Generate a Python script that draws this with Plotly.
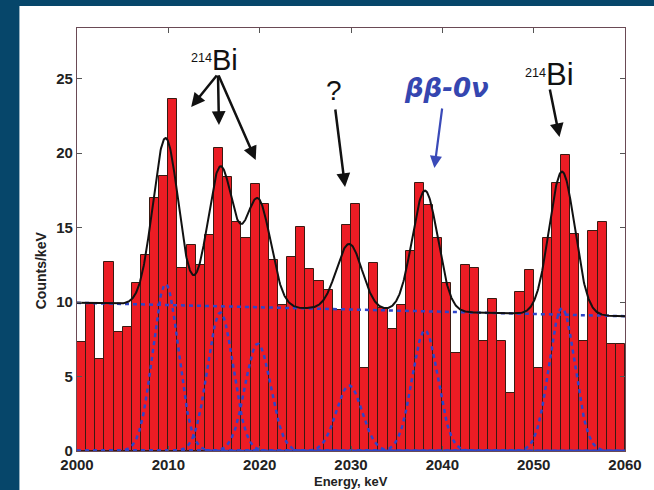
import numpy as np
import plotly.graph_objects as go

# ---- data ----
energy_bins = list(range(2000, 2060))  # left edges of 1 keV bins
counts = [7.35, 9.9, 6.15, 12.7, 8.0, 8.3, 11.3, 13.15, 17.0, 18.45,
          23.65, 12.3, 13.8, 12.5, 14.5, 20.35, 18.4, 15.4, 14.3, 17.95,
          16.6, 12.8, 9.8, 13.0, 15.05, 12.2, 11.4, 10.8, 9.5, 15.2,
          16.6, 5.6, 12.6, 9.6, 8.2, 9.8, 13.4, 18.0, 16.5, 14.3,
          11.3, 6.6, 12.5, 12.3, 7.4, 10.2, 7.4, 3.9, 10.7, 12.15,
          5.6, 14.3, 18.0, 19.9, 14.6, 7.4, 14.8, 15.4, 7.2, 7.2]

peak_centers = [2009.7, 2015.7, 2019.8, 2029.8, 2038.1, 2053.1]
peak_amplitudes = [11.2, 9.3, 7.2, 4.4, 8.1, 9.6]
peak_sigma = [1.4, 1.4, 1.4, 1.4, 1.4, 1.4]
background_ends = [9.95, 9.05]   # background level at 2000 and 2060 keV

x_ticks = [2000, 2010, 2020, 2030, 2040, 2050, 2060]
y_ticks = [0, 5, 10, 15, 20, 25]

# ---- figure ----
W, H = 654, 490
L, R, T, B = 77, 25, 28, 39
pw, ph = W - L - R, H - T - B

E = np.linspace(2000, 2060, 1201)
bg = background_ends[0] + (background_ends[1] - background_ends[0]) * (E - 2000) / 60.0
gauss = [a * np.exp(-(E - c) ** 2 / (2 * s ** 2))
         for c, a, s in zip(peak_centers, peak_amplitudes, peak_sigma)]
total = bg + np.sum(gauss, axis=0)

fig = go.Figure()
fig.add_trace(go.Bar(
    x=[e + 0.5 for e in energy_bins], y=counts, width=1.0,
    marker=dict(color="#ec1c24", line=dict(color="#3a1a12", width=1)),
    showlegend=False, hoverinfo="skip"))

blue = "#2f45c8"
for g in gauss:
    fig.add_trace(go.Scatter(x=E, y=g, mode="lines",
                             line=dict(color=blue, width=2.5, dash="4px,4px"),
                             showlegend=False, hoverinfo="skip"))
fig.add_trace(go.Scatter(x=E, y=bg, mode="lines",
                         line=dict(color=blue, width=2.5, dash="4px,4px"),
                         showlegend=False, hoverinfo="skip"))
fig.add_trace(go.Scatter(x=E, y=total, mode="lines",
                         line=dict(color="#111111", width=2.0),
                         showlegend=False, hoverinfo="skip"))

def px2x(p):
    return 2000 + (p - L) / pw * 60.0

def py2y(p):
    return (H - B - p) / ph * 28.4

annotations = []
label_font = "Liberation Sans, Arial, sans-serif"

# 214Bi (left)
annotations.append(dict(x=px2x(215), y=py2y(60), xref="x", yref="y",
                        text="<span style='font-size:18px'><sup>214</sup></span>Bi",
                        showarrow=False, font=dict(size=29, color="#111", family=label_font)))
for hx, hy in [(192, 107), (220, 125), (257, 160)]:
    annotations.append(dict(x=px2x(hx), y=py2y(hy), ax=px2x(219), ay=py2y(74),
                            xref="x", yref="y", axref="x", ayref="y", text="",
                            showarrow=True, arrowhead=2, arrowsize=1.1, arrowwidth=2.5,
                            arrowcolor="#111"))
# ?
annotations.append(dict(x=px2x(336), y=py2y(90), xref="x", yref="y", text="?",
                        showarrow=False, font=dict(size=28, color="#111", family=label_font)))
annotations.append(dict(x=px2x(347), y=py2y(187), ax=px2x(337), ay=py2y(108),
                        xref="x", yref="y", axref="x", ayref="y", text="",
                        showarrow=True, arrowhead=2, arrowsize=1.1, arrowwidth=2.5,
                        arrowcolor="#111"))
# bb-0v
annotations.append(dict(x=px2x(449), y=py2y(88), xref="x", yref="y",
                        text="<b><i>ββ-0ν</i></b>", showarrow=False,
                        font=dict(size=26, color="#3546b0", family="DejaVu Sans, sans-serif")))
annotations.append(dict(x=px2x(437), y=py2y(168), ax=px2x(445), ay=py2y(107),
                        xref="x", yref="y", axref="x", ayref="y", text="",
                        showarrow=True, arrowhead=2, arrowsize=1.1, arrowwidth=2.2,
                        arrowcolor="#3a4ab8"))
# 214Bi (right)
annotations.append(dict(x=px2x(553), y=py2y(74), xref="x", yref="y",
                        text="<span style='font-size:18px'><sup>214</sup></span>Bi",
                        showarrow=False, font=dict(size=31, color="#111", family=label_font)))
annotations.append(dict(x=px2x(563), y=py2y(137), ax=px2x(553), ay=py2y(88),
                        xref="x", yref="y", axref="x", ayref="y", text="",
                        showarrow=True, arrowhead=2, arrowsize=1.1, arrowwidth=2.5,
                        arrowcolor="#111"))

# axis titles
annotations.append(dict(x=(353 - L) / pw, y=(H - B - 490) / ph, xref="paper", yref="paper",
                        xanchor="center", yanchor="bottom", borderpad=0,
                        text="<b>Energy, keV</b>", showarrow=False,
                        font=dict(size=13, color="#222", family="Liberation Sans, Arial")))
annotations.append(dict(x=(41 - L) / pw, y=(H - B - 270) / ph, xref="paper", yref="paper",
                        xanchor="center", yanchor="middle",
                        text="<b>Counts/keV</b>", showarrow=False, textangle=-90,
                        font=dict(size=14, color="#222", family="Liberation Sans, Arial")))

axis_common = dict(showline=True, linecolor="#6a4a55", linewidth=1.2, mirror="ticks",
                   ticks="inside", ticklen=5, tickcolor="#555", showgrid=False,
                   zeroline=False,
                   tickfont=dict(size=15, color="#222", family="Liberation Sans, Arial"))

fig.update_layout(
    width=W, height=H, margin=dict(l=L, r=R, t=T, b=B),
    paper_bgcolor="#06466a", plot_bgcolor="white",
    bargap=0, barmode="overlay",
    xaxis=dict(range=[2000, 2060], tickvals=x_ticks,
               ticktext=[f"<b>{t}</b>" for t in x_ticks], **axis_common),
    yaxis=dict(range=[0, 28.4], tickvals=y_ticks,
               ticktext=[f"<b>{t}</b>" for t in y_ticks], **axis_common),
    annotations=annotations,
    shapes=[dict(type="rect", xref="paper", yref="paper", layer="below",
                 x0=(19 - L) / pw, x1=(W - L) / pw + 0.01,
                 y0=(H - B - H) / ph - 0.01, y1=(H - B - 6) / ph,
                 fillcolor="white", line=dict(width=0))],
)

fig.write_html("out.html")
